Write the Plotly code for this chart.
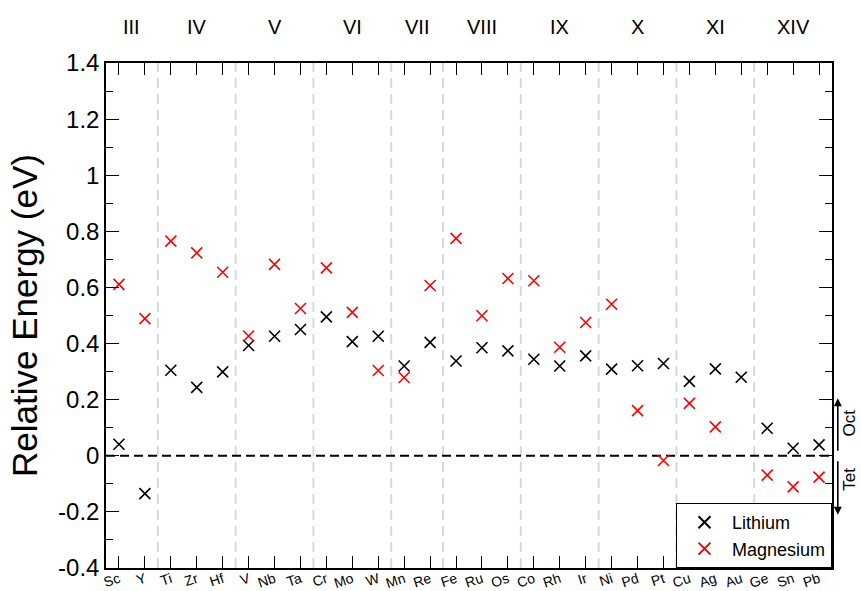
import plotly.graph_objects as go

elements = ["Sc", "Y", "Ti", "Zr", "Hf", "V", "Nb", "Ta", "Cr", "Mo", "W", "Mn", "Re", "Fe",
            "Ru", "Os", "Co", "Rh", "Ir", "Ni", "Pd", "Pt", "Cu", "Ag", "Au", "Ge", "Sn", "Pb"]
lithium = [0.041, -0.135, 0.305, 0.244, 0.299, 0.393, 0.426, 0.450, 0.495, 0.407, 0.426, 0.320,
           0.404, 0.338, 0.385, 0.374, 0.344, 0.320, 0.356, 0.309, 0.321, 0.329, 0.265, 0.310,
           0.280, 0.098, 0.027, 0.039]
magnesium = [0.611, 0.489, 0.765, 0.723, 0.654, 0.427, 0.682, 0.525, 0.670, 0.511, 0.304, 0.279,
             0.607, 0.775, 0.499, 0.632, 0.624, 0.387, 0.475, 0.540, 0.161, -0.017, 0.187, 0.103,
             None, -0.069, -0.111, -0.076]
group_names = ["III", "IV", "V", "VI", "VII", "VIII", "IX", "X", "XI", "XIV"]
group_centers = [1.5, 4, 7, 10, 12.5, 15, 18, 21, 24, 27]
group_boundaries = [2.5, 5.5, 8.5, 11.5, 13.5, 16.5, 19.5, 22.5, 25.5]
y_ticks = [-0.4, -0.2, 0, 0.2, 0.4, 0.6, 0.8, 1, 1.2, 1.4]
y_tick_text = ["-0.4", "-0.2", "0", "0.2", "0.4", "0.6", "0.8", "1", "1.2", "1.4"]

xpos = list(range(1, len(elements) + 1))
FONT = "Liberation Sans, Arial, sans-serif"

fig = go.Figure()
fig.add_trace(go.Scatter(x=xpos, y=lithium, mode="markers", name="Lithium",
                         marker=dict(symbol="x-thin-open", size=11, color="black",
                                     line=dict(width=1.6, color="black"))))
fig.add_trace(go.Scatter(x=xpos, y=magnesium, mode="markers", name="Magnesium",
                         marker=dict(symbol="x-thin-open", size=11, color="red",
                                     line=dict(width=1.6, color="red"))))

shapes = []
for b in group_boundaries:
    shapes.append(dict(type="line", xref="x", yref="paper", x0=b, x1=b, y0=0, y1=1,
                       line=dict(color="#d8d8d8", width=2, dash="10px,6px"), layer="below"))
shapes.append(dict(type="line", xref="paper", yref="y", x0=0, x1=1, y0=0, y1=0,
                   line=dict(color="black", width=2, dash="9px,5px"), layer="below"))

annotations = []
for name, c in zip(group_names, group_centers):
    annotations.append(dict(x=c, y=1.071, xref="x", yref="paper", text=name, showarrow=False,
                            xanchor="center", yanchor="middle",
                            font=dict(size=20, color="black", family=FONT)))
# Oct / Tet arrows on right side
annotations.append(dict(x=1.008, y=0.205, xref="paper", yref="y", text="", showarrow=True,
                        ax=0, ay=54, arrowhead=2, arrowsize=1, arrowwidth=1.6, arrowcolor="black"))
annotations.append(dict(x=1.008, y=-0.21, xref="paper", yref="y", text="", showarrow=True,
                        ax=0, ay=-55, arrowhead=2, arrowsize=1, arrowwidth=1.6, arrowcolor="black"))
annotations.append(dict(x=1.0248, y=0.115, xref="paper", yref="y", text="Oct", showarrow=False,
                        xanchor="center", yanchor="middle", textangle=-90,
                        font=dict(size=17, color="black", family=FONT)))
annotations.append(dict(x=1.0248, y=-0.085, xref="paper", yref="y", text="Tet", showarrow=False,
                        xanchor="center", yanchor="middle", textangle=-90,
                        font=dict(size=17, color="black", family=FONT)))

fig.update_layout(
    width=861, height=591,
    margin=dict(l=106, r=29, t=63, b=23, autoexpand=False),
    paper_bgcolor="white", plot_bgcolor="white",
    font=dict(family=FONT, color="black"),
    showlegend=True,
    legend=dict(x=1, y=0, xanchor="right", yanchor="bottom", bgcolor="white",
                bordercolor="black", borderwidth=1, font=dict(size=18, family=FONT),
                itemsizing="constant", itemwidth=45, tracegroupgap=0),
    shapes=shapes,
    annotations=annotations,
)
fig.update_xaxes(range=[0.5, 28.5], tickmode="array", tickvals=xpos, ticktext=elements,
                 tickangle=-18, tickfont=dict(size=14, family=FONT), automargin=False,
                 ticklabelstandoff=-4,
                 showgrid=False, zeroline=False, showline=True, linecolor="black", linewidth=1.5,
                 mirror="ticks", ticks="inside", ticklen=12, tickwidth=1, tickcolor="black")
fig.update_yaxes(range=[-0.4, 1.4], tickmode="array", tickvals=y_ticks, ticktext=y_tick_text,
                 tickfont=dict(size=24, family=FONT), automargin=False,
                 title=dict(text="Relative Energy (eV)", font=dict(size=35, family=FONT), standoff=10),
                 showgrid=False, zeroline=False, showline=True, linecolor="black", linewidth=1.5,
                 mirror="ticks", ticks="inside", ticklen=13, tickwidth=1, tickcolor="black",
                 minor=dict(dtick=0.1, tick0=0, ticks="inside", ticklen=7, tickwidth=1,
                            tickcolor="black", showgrid=False))

fig.write_html("out.html", config={"displayModeBar": False},
               post_script="document.body.style.margin='0';document.body.style.overflow='hidden';")
